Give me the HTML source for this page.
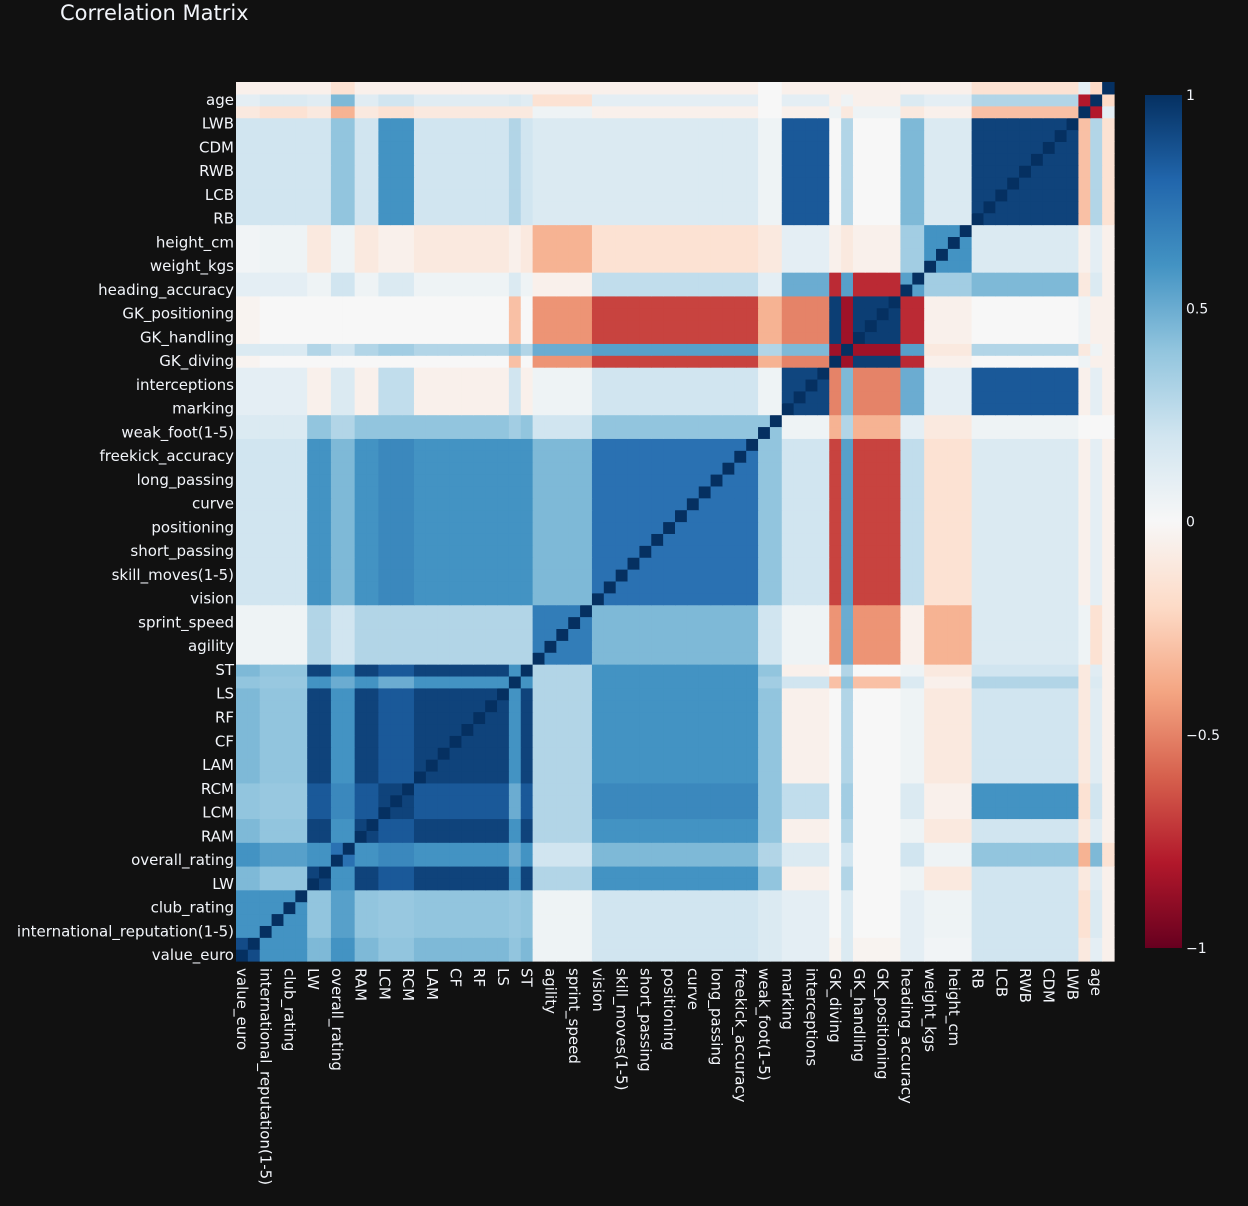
<!DOCTYPE html>
<html><head><meta charset="utf-8">
<style>
html,body{margin:0;padding:0;background:#111111;}
body{width:1248px;height:1202px;overflow:hidden;font-family:"DejaVu Sans","Liberation Sans",sans-serif;}
svg text{font-family:"DejaVu Sans","Liberation Sans",sans-serif;fill:#f2f5fa;}
</style></head>
<body>
<svg id="chart" width="1248" height="1202" xmlns="http://www.w3.org/2000/svg">
<rect x="0" y="0" width="1248" height="1202" fill="#111111"/>
<text x="60" y="20" font-size="21">Correlation Matrix</text>
<g id="cells"></g>
<g id="xlabels"></g>
<g id="ylabels"></g>
<defs><linearGradient id="cbgrad" x1="0" y1="1" x2="0" y2="0">
<stop offset="0" stop-color="#67001f"/><stop offset="0.1" stop-color="#b2182b"/><stop offset="0.2" stop-color="#d6604d"/><stop offset="0.3" stop-color="#f4a582"/><stop offset="0.4" stop-color="#fddbc7"/><stop offset="0.5" stop-color="#f7f7f7"/><stop offset="0.6" stop-color="#d1e5f0"/><stop offset="0.7" stop-color="#92c5de"/><stop offset="0.8" stop-color="#4393c3"/><stop offset="0.9" stop-color="#2166ac"/><stop offset="1" stop-color="#053061"/>
</linearGradient></defs>
<rect x="1145" y="95" width="37" height="853" fill="url(#cbgrad)"/>
<g id="cbticks"></g>
</svg>
<script>
// variable names (x order left->right, y order bottom->top)
const variables = ["value_euro","wage_euro","international_reputation(1-5)","national_rating","club_rating","release_clause_euro","LW","RW","overall_rating","potential","RAM","CAM","LCM","CM","RCM","LM","LAM","RM","CF","LF","RF","RS","LS","composure","ST","acceleration","agility","balance","sprint_speed","reactions","vision","dribbling","skill_moves(1-5)","ball_control","short_passing","crossing","positioning","finishing","curve","long_shots","long_passing","shot_power","freekick_accuracy","volleys","weak_foot(1-5)","penalties","marking","standing_tackle","interceptions","sliding_tackle","GK_diving","stamina","GK_handling","GK_reflexes","GK_positioning","GK_kicking","heading_accuracy","strength","weight_kgs","jumping","height_cm","aggression","RB","LB","LCB","CB","RWB","RCB","CDM","LDM","LWB","birth_year","age","jersey_number"];
// group membership of each variable
const groupOf = [0,0,1,1,1,1,2,2,3,3,2,2,4,4,4,2,2,2,2,2,2,2,2,5,2,6,6,6,6,6,7,7,7,7,7,7,7,7,7,7,7,7,7,7,8,8,9,9,9,9,10,11,10,10,10,10,12,12,13,13,13,13,14,14,14,14,14,14,14,14,14,15,16,17];
// group-by-group correlations (upper triangle rows)
const groupCorrRows = [
[0.9,0.6,0.45,0.6,0.4,0.4,0.05,0.2,0.15,0.1,-0.03,0.15,0.1,0.03,0.2,-0.1,0.1,-0.05],
[0.6,0.4,0.55,0.38,0.38,0.05,0.2,0.15,0.1,0,0.15,0.1,0.05,0.2,-0.15,0.15,-0.05],
[0.93,0.6,0.85,0.6,0.3,0.6,0.4,-0.05,0.0,0.3,0.05,-0.1,0.2,-0.1,0.12,-0.05],
[0.75,0.65,0.5,0.2,0.45,0.3,0.15,0,0.2,0.2,0.05,0.4,-0.35,0.45,-0.15],
[0.93,0.5,0.3,0.65,0.4,0.25,0,0.35,0.15,-0.05,0.6,-0.15,0.2,-0.05],
[1,0.3,0.6,0.35,0.2,-0.3,0.4,0.15,-0.05,0.3,-0.1,0.15,-0.05],
[0.7,0.45,0.2,0.05,-0.45,0.5,-0.05,-0.35,0.15,0.05,-0.15,-0.05],
[0.75,0.4,0.2,-0.68,0.55,0.25,-0.15,0.15,-0.05,0.1,-0.05],
[0.4,0.05,-0.35,0.3,0.1,-0.1,0.05,0,0,0],
[0.92,-0.5,0.45,0.5,0.1,0.85,-0.05,0.1,-0.05],
[0.95,-0.85,-0.75,-0.05,0.0,0.05,-0.05,-0.05],
[1,0.55,-0.1,0.3,-0.1,0.05,-0.05],
[0.55,0.35,0.45,-0.1,0.15,-0.05],
[0.6,0.15,-0.05,0.1,-0.05],
[0.93,-0.3,0.3,-0.15],
[1,-0.8,0.1],
[1,-0.2],
[1]
];
const cbTickValues = [1,0.5,0,-0.5,-1];
const cbTickLabels = ["1","0.5","0","\u22120.5","\u22121"];

const NS="http://www.w3.org/2000/svg";
const X0=236,X1=1114,Y0=82,Y1=961;
const n=variables.length;
const cw=(X1-X0)/n, ch=(Y1-Y0)/n;
function xPos(i){return X0+i*cw;}
function yPos(i){return Y1-(i+1)*ch;}
function cbY(v){return 948-(v+1)/2*(948-95);}
function gCorr(a,b){ if(a>b){const t=a;a=b;b=t;} return groupCorrRows[a][b-a]; }
const stops=[[103,0,31],[178,24,43],[214,96,77],[244,165,130],[253,219,199],[247,247,247],[209,229,240],[146,197,222],[67,147,195],[33,102,172],[5,48,97]];
function color(v){
  let t=(v+1)/2*10; t=Math.max(0,Math.min(10,t));
  const k=Math.min(9,Math.floor(t)), f=t-k;
  const a=stops[k],b=stops[k+1];
  return "rgb("+a.map((c,i)=>Math.round(c+(b[i]-c)*f)).join(",")+")";
}
const cells=document.getElementById("cells");
for(let i=0;i<n;i++){for(let j=0;j<n;j++){
  const v = i===j?1:gCorr(groupOf[i],groupOf[j]);
  const r=document.createElementNS(NS,"rect");
  r.setAttribute("x",xPos(j).toFixed(2));
  r.setAttribute("y",yPos(i).toFixed(2));
  r.setAttribute("width",(cw+0.6).toFixed(2));
  r.setAttribute("height",(ch+0.6).toFixed(2));
  r.setAttribute("fill",color(v));
  
  
  cells.appendChild(r);
}}
const xl=document.getElementById("xlabels"), yl=document.getElementById("ylabels");
for(let i=0;i<n;i+=2){
  const cx=xPos(i)+cw/2, cy=yPos(i)+ch/2;
  const t=document.createElementNS(NS,"text");
  t.setAttribute("transform","translate("+cx.toFixed(1)+",968) rotate(90)");
  t.setAttribute("font-size","15");
  t.setAttribute("dominant-baseline","central");
  t.textContent=variables[i];
  
  
  xl.appendChild(t);
  const u=document.createElementNS(NS,"text");
  u.setAttribute("x","234");
  u.setAttribute("y",(cy+5).toFixed(1));
  u.setAttribute("text-anchor","end");
  u.setAttribute("font-size","15");
  u.textContent=variables[i];
  
  
  yl.appendChild(u);
}
const cb=document.getElementById("cbticks");
cbTickValues.forEach((v,k)=>{
  const t=document.createElementNS(NS,"text");
  t.setAttribute("x","1186");
  t.setAttribute("y",(cbY(v)+5).toFixed(1));
  t.setAttribute("font-size","14");
  t.textContent=cbTickLabels[k];
  
  
  cb.appendChild(t);
});
</script>
</body></html>
